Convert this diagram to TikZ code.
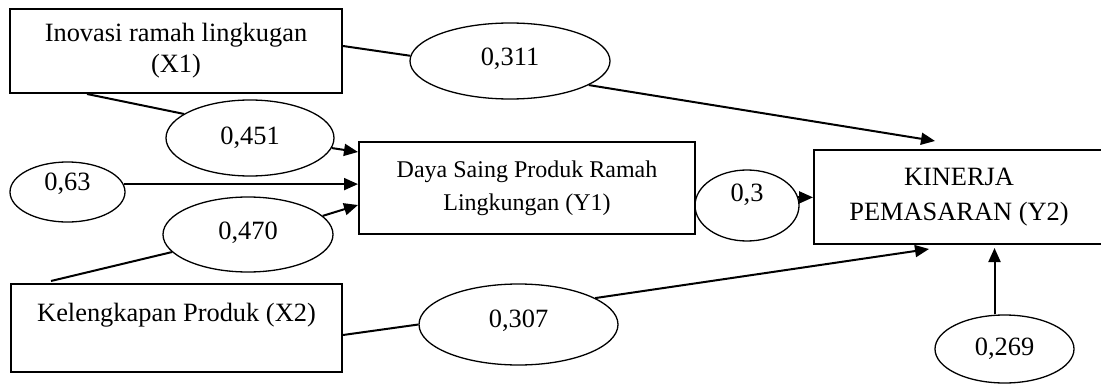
\documentclass[tikz,border=0pt]{standalone}
\usepackage{fontspec}
\setmainfont{Liberation Serif}
\usetikzlibrary{arrows.meta,calc,shapes.geometric}
\tikzset{
  boxnode/.style={draw, line width=1pt, rectangle, inner sep=0pt, align=center,
    font=\fontsize{13.2pt}{15.5pt}\selectfont},
  oval/.style={draw, line width=0.65pt, ellipse, inner sep=0pt,
    font=\fontsize{13.2pt}{15.5pt}\selectfont},
  link/.style={line width=1pt},
  arr/.style={line width=1pt, -{Triangle[length=7pt,width=6pt]}}
}
\begin{document}
\begin{tikzpicture}[x=0.5pt,y=-0.5pt]
\useasboundingbox (0,0) rectangle (1101,385);
% boxes
\node[boxnode, minimum width=166pt, minimum height=42pt] (X1) at (176,51) {Inovasi ramah lingkugan\\(X1)};
\node[boxnode, minimum width=168pt, minimum height=46pt, font=\fontsize{12pt}{16.5pt}\selectfont] (Y1) at (527,188) {Daya Saing Produk Ramah\\Lingkungan (Y1)};
\node[boxnode, minimum width=165.5pt, minimum height=44pt] (X2) at (176.5,328) {Kelengkapan Produk (X2)\\\mbox{}};
\node[boxnode, minimum width=145pt, minimum height=47pt, font=\fontsize{13.2pt}{17.5pt}\selectfont] (K) at (959,197) {KINERJA\\PEMASARAN (Y2)};
% ovals
\node[oval, minimum width=100pt, minimum height=38pt, text depth=4.5pt] (e311) at (510,61) {0,311};
\node[oval, minimum width=84pt, minimum height=38pt] (e451) at (250,138) {0,451};
\node[oval, minimum width=57.5pt, minimum height=30pt, text depth=10pt] (e63) at (67.5,192) {0,63};
\node[oval, minimum width=85pt, minimum height=37.5pt, text depth=4pt] (e470) at (248,234.5) {0,470};
\node[oval, minimum width=99.5pt, minimum height=40.5pt, text depth=5.5pt] (e307) at (518.5,324.5) {0,307};
\node[oval, minimum width=52pt, minimum height=35.5pt, text depth=12.5pt] (e3) at (747,205.5) {0,3};
\node[oval, minimum width=69.5pt, minimum height=34pt] (e269) at (1004.5,349) {0,269};
% free ends
\coordinate (t311) at ($(K.north)+(-24,-8)$);
\coordinate (t451) at ($(Y1.north west)+(0,11)$);
\coordinate (t470) at ($(Y1.west)+(0,17)$);
\coordinate (t307) at ($(K.south)+(-30,4)$);
\coordinate (s269) at ($(e269.north)+(-10,0)$);
\coordinate (t269) at ($(s269 |- K.south)+(0,3)$);
% connectors
\draw[link] ($(X1.east)+(0,-5)$) -- (e311.177);
\draw[arr] (e311.-17) -- (t311);
\draw[link] ($(X1.south west)+(78,0)$) -- (e451.160);
\draw[arr] (e451.-7) -- (t451);
\draw[arr] (e63.8) -- (e63.8 -| Y1.west);
\draw[link] ($(X2.north west)+(41,-2)$) -- (e470.193);
\draw[arr] (e470.14) -- (t470);
\draw[link] ($(X2.east)+(0,7)$) -- (e307.west);
\draw[arr] (e307.19) -- (t307);
\draw[arr] (e3.9) -- (e3.9 -| K.west);
\draw[arr] (s269) -- (t269);
\end{tikzpicture}
\end{document}
